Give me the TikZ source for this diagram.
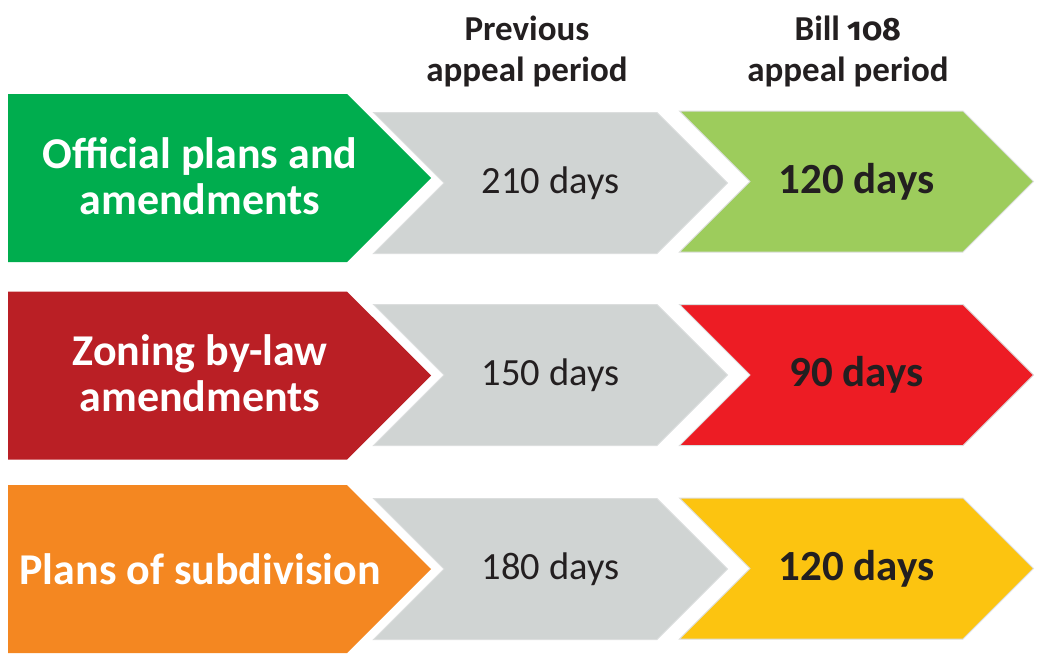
\documentclass[tikz,border=0pt]{standalone}
\usepackage{fontspec}
\setmainfont{Carlito}
\newfontfamily\oldnums[Numbers=OldStyle,Scale=0.92]{Fira Sans}
\usetikzlibrary{shapes.symbols}
\definecolor{opgreen}{HTML}{00AD4E}
\definecolor{zbred}{HTML}{BA1F25}
\definecolor{psorange}{HTML}{F48721}
\definecolor{newgreen}{HTML}{9DCC5C}
\definecolor{newred}{HTML}{ED1C24}
\definecolor{newyellow}{HTML}{FCC410}
\definecolor{oldgrey}{HTML}{D0D4D3}
\definecolor{edgegrey}{HTML}{DCDEDE}
\definecolor{textdark}{HTML}{231F20}

\begin{document}
\begin{tikzpicture}[
  x=1pt, y=-1pt,
  arrowbox/.style   = {signal, signal to=east, signal pointer angle=90, inner sep=0pt, align=center},
  topic/.style      = {arrowbox, minimum width=423pt, minimum height=168pt},
  topiclabel/.style = {align=center, text=white, font=\fontsize{44}{46}\selectfont\bfseries},
  period/.style     = {arrowbox, signal from=west, minimum width=354pt, minimum height=141pt,
                       draw=edgegrey, line width=1pt, text=textdark},
  old/.style        = {period, fill=oldgrey, font=\fontsize{38.5}{40}\selectfont},
  new/.style        = {period, font=\fontsize{43}{45}\selectfont\bfseries},
  head/.style       = {align=center, text=textdark, font=\fontsize{35}{41}\selectfont\bfseries},
]
\useasboundingbox (0,0) rectangle (1041,653);

%% column heads
\node[head] (hold) at (527,51) {Previous\\appeal period};
\node[head] (hnew) at (848,51) {Bill {\oldnums\bfseries 108}\\appeal period};

%% official plans
\node[topic, fill=opgreen] (optopic) at (177.5,178) {};
\node[topiclabel] (oplabel) at (200,176.5) {Official plans and\\amendments};
\node[old] (opold) at (550.5,183) {210 days};
\node[new, fill=newgreen] (opnew) at (856.5,181.5) {120 days};

%% zoning by-law
\node[topic, fill=zbred] (zbtopic) at (177.5,375.5) {};
\node[topiclabel] (zblabel) at (200,373) {Zoning by-law\\amendments};
\node[old] (zbold) at (550.5,375) {150 days};
\node[new, fill=newred] (zbnew) at (856.5,375) {90 days};

%% subdivision
\node[topic, fill=psorange] (pstopic) at (177.5,569) {};
\node[topiclabel] (pslabel) at (200,569) {Plans of subdivision};
\node[old] (psold) at (550.5,569) {180 days};
\node[new, fill=newyellow] (psnew) at (856.5,568.5) {120 days};
\end{tikzpicture}
\end{document}
